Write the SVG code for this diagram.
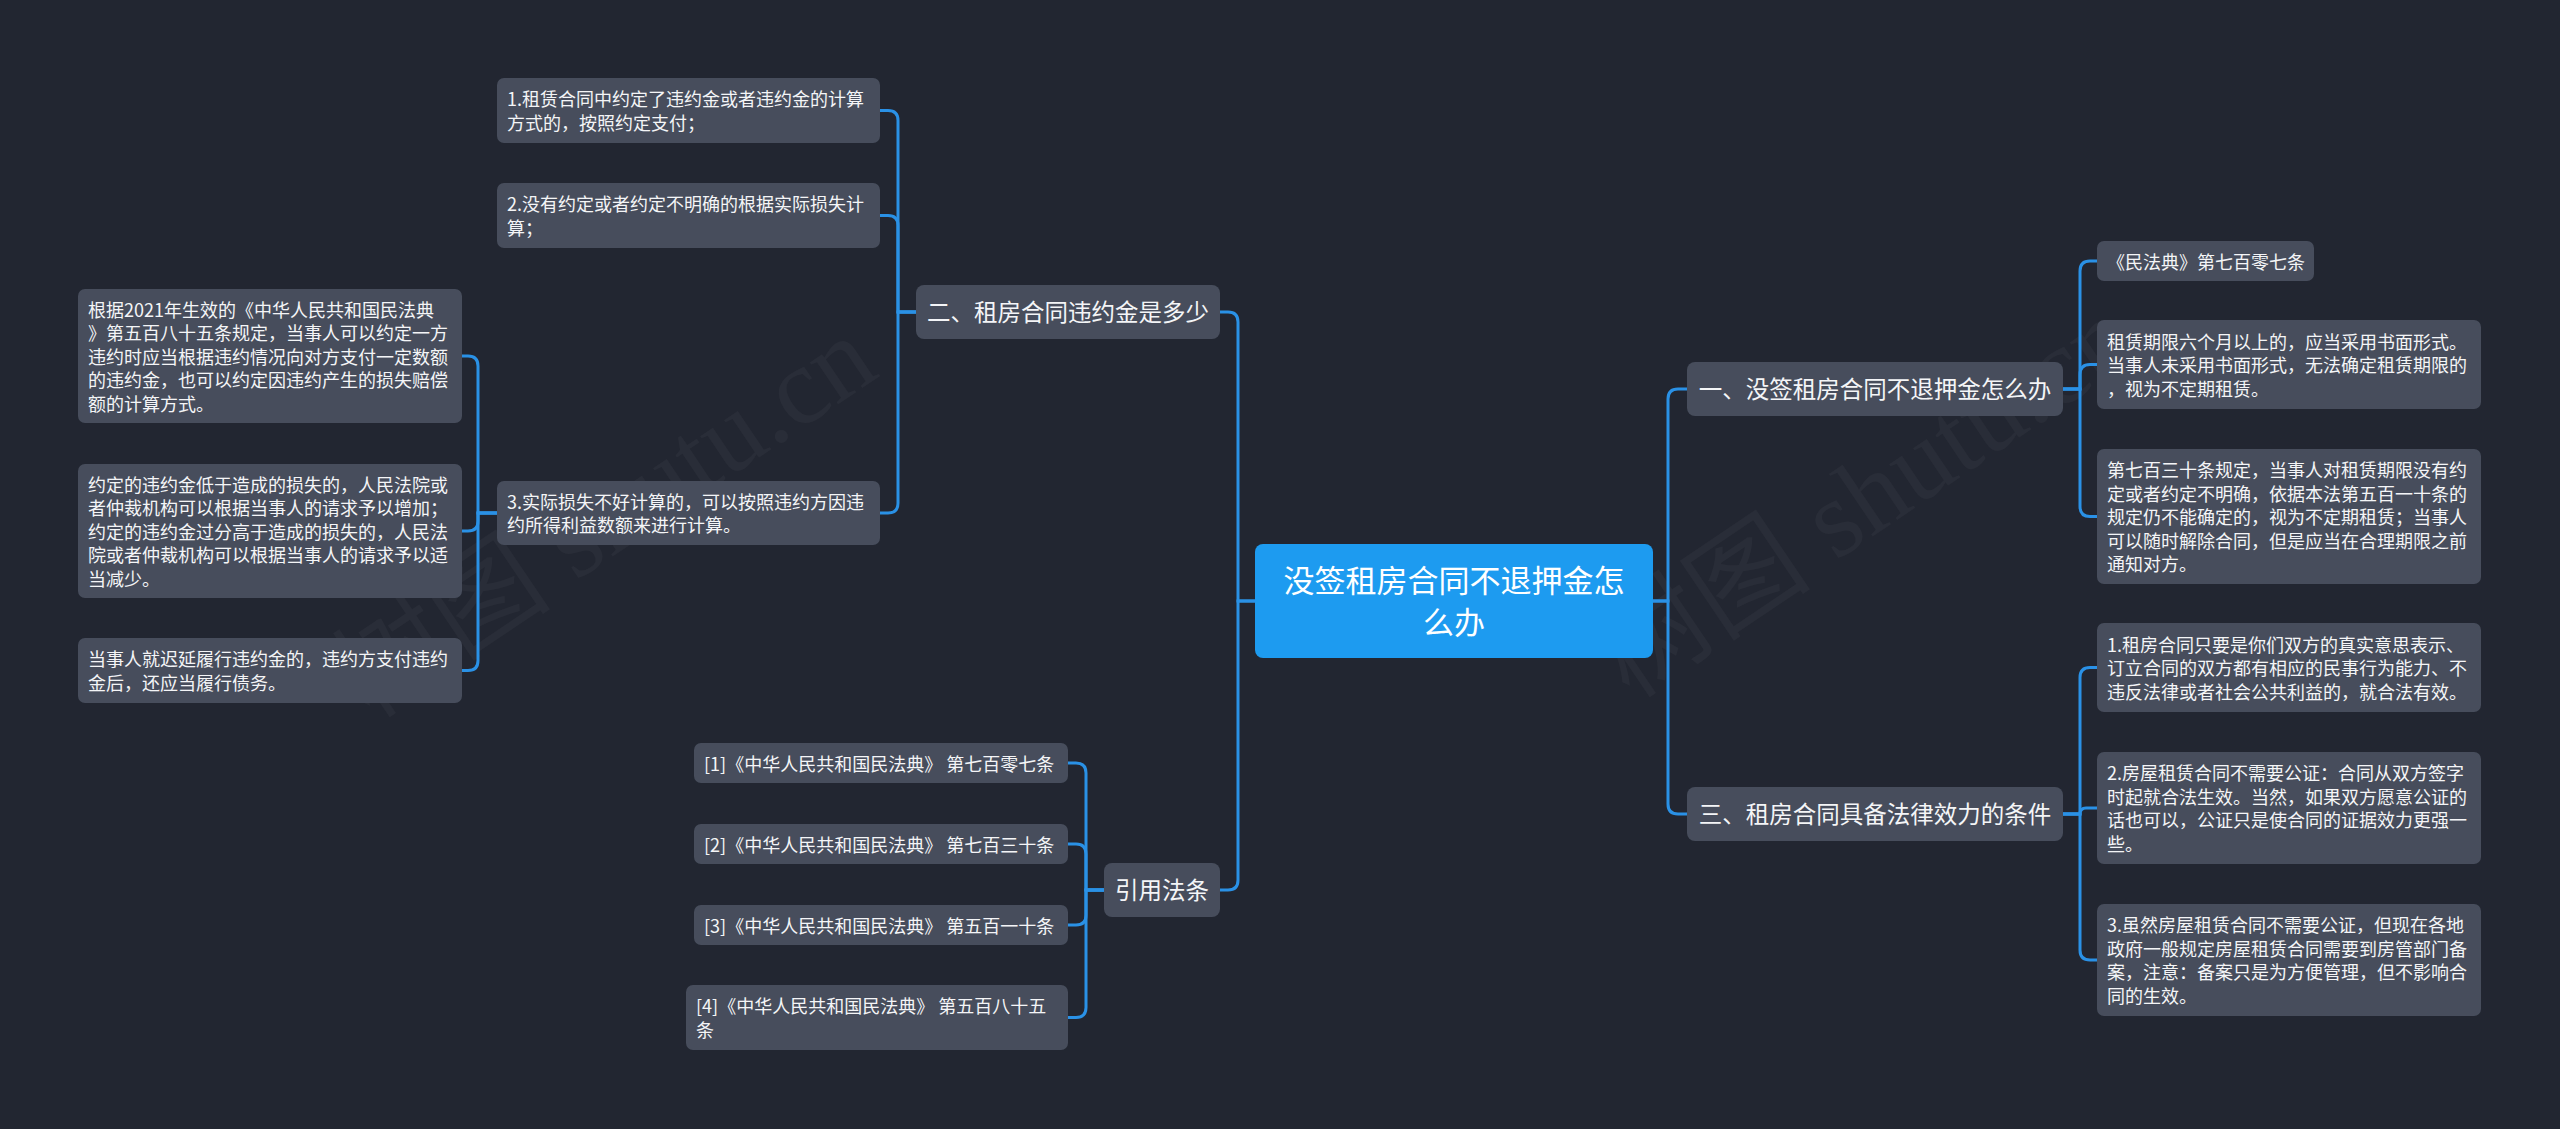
<svg xmlns="http://www.w3.org/2000/svg" width="2560" height="1129" viewBox="0 0 2560 1129">
<style>
.bg{fill:#222631}
.n rect{fill:#474d5c}
.root rect{fill:#1d9bf0}
.t{font-family:"Noto Sans CJK SC","Noto Sans",sans-serif;fill:#f4f5f7;font-size:18px}
.m{font-family:"Noto Sans CJK SC","Noto Sans",sans-serif;fill:#f4f5f7;font-size:23.5px;text-anchor:middle}
.r{font-family:"Noto Sans CJK SC","Noto Sans",sans-serif;fill:#ffffff;font-size:31px;text-anchor:middle}
.c path{fill:none;stroke:#2a91e6;stroke-width:3;stroke-linecap:round}
.wm{font-family:"Liberation Serif","Noto Sans CJK SC",serif;font-size:110px;fill:#ffffff;fill-opacity:0.035}
</style>
<rect class="bg" x="0" y="0" width="2560" height="1129"/>
<g id="watermarks">
<text class="wm" transform="translate(370,720) rotate(-34)">树图 shutu.cn</text>
<text class="wm" transform="translate(1630,700) rotate(-34)">树图 shutu.cn</text>
</g>
<g id="connectors" class="c">
<path d="M1653 601 H1668 V399 Q1668 389 1678 389 H1687"/>
<path d="M1653 601 H1668 V804 Q1668 814 1678 814 H1687"/>
<path d="M1255 601 H1238 V322 Q1238 312 1228 312 H1220"/>
<path d="M1255 601 H1238 V880 Q1238 890 1228 890 H1220"/>
<path d="M2063 389 H2080 V271 Q2080 261 2090 261 H2097"/>
<path d="M2063 389 H2080 V374.5 Q2080 364.5 2090 364.5 H2097"/>
<path d="M2063 389 H2080 V506.5 Q2080 516.5 2090 516.5 H2097"/>
<path d="M2063 814 H2080 V677.5 Q2080 667.5 2090 667.5 H2097"/>
<path d="M2063 814 H2080 V814 Q2080 808 2086 808 H2097"/>
<path d="M2063 814 H2080 V950 Q2080 960 2090 960 H2097"/>
<path d="M916 312 H898 V120.5 Q898 110.5 888 110.5 H880"/>
<path d="M916 312 H898 V225.5 Q898 215.5 888 215.5 H880"/>
<path d="M916 312 H898 V503 Q898 513 888 513 H880"/>
<path d="M497 513 H478 V366 Q478 356 468 356 H462"/>
<path d="M497 513 H478 V521 Q478 531 468 531 H462"/>
<path d="M497 513 H478 V660.5 Q478 670.5 468 670.5 H462"/>
<path d="M1104 890 H1086 V773 Q1086 763 1076 763 H1068"/>
<path d="M1104 890 H1086 V854 Q1086 844 1076 844 H1068"/>
<path d="M1104 890 H1086 V915 Q1086 925 1076 925 H1068"/>
<path d="M1104 890 H1086 V1007.5 Q1086 1017.5 1076 1017.5 H1068"/>
</g>
<g id="root" class="root">
<rect x="1255" y="544" width="398" height="114" rx="8"/>
<text class="r" x="1454" y="592">没签租房合同不退押金怎</text>
<text class="r" x="1454" y="634">么办</text>
</g>
<g id="n1" class="n">
<rect x="1687" y="362" width="376" height="54" rx="8"/>
<text class="m" x="1875" y="397.5">一、没签租房合同不退押金怎么办</text>
</g>
<g id="n3" class="n">
<rect x="1687" y="787" width="376" height="54" rx="8"/>
<text class="m" x="1875" y="822.5">三、租房合同具备法律效力的条件</text>
</g>
<g id="n2" class="n">
<rect x="916" y="285" width="304" height="54" rx="8"/>
<text class="m" x="1068" y="320.5">二、租房合同违约金是多少</text>
</g>
<g id="nref" class="n">
<rect x="1104" y="863" width="116" height="54" rx="8"/>
<text class="m" x="1162" y="898.5">引用法条</text>
</g>
<g id="a1" class="n">
<rect x="2097" y="241" width="217" height="40" rx="7"/>
<text class="t" x="2107" y="268.5">《民法典》第七百零七条</text>
</g>
<g id="a2" class="n">
<rect x="2097" y="320" width="384" height="89" rx="7"/>
<text class="t" x="2107" y="348.5">租赁期限六个月以上的，应当采用书面形式。</text>
<text class="t" x="2107" y="372">当事人未采用书面形式，无法确定租赁期限的</text>
<text class="t" x="2107" y="395.5">，视为不定期租赁。</text>
</g>
<g id="a3" class="n">
<rect x="2097" y="449" width="384" height="135" rx="7"/>
<text class="t" x="2107" y="477">第七百三十条规定，当事人对租赁期限没有约</text>
<text class="t" x="2107" y="500.5">定或者约定不明确，依据本法第五百一十条的</text>
<text class="t" x="2107" y="524">规定仍不能确定的，视为不定期租赁；当事人</text>
<text class="t" x="2107" y="547.5">可以随时解除合同，但是应当在合理期限之前</text>
<text class="t" x="2107" y="571">通知对方。</text>
</g>
<g id="b1" class="n">
<rect x="2097" y="623" width="384" height="89" rx="7"/>
<text class="t" x="2107" y="651.5">1.租房合同只要是你们双方的真实意思表示、</text>
<text class="t" x="2107" y="675">订立合同的双方都有相应的民事行为能力、不</text>
<text class="t" x="2107" y="698.5">违反法律或者社会公共利益的，就合法有效。</text>
</g>
<g id="b2" class="n">
<rect x="2097" y="752" width="384" height="112" rx="7"/>
<text class="t" x="2107" y="780.25">2.房屋租赁合同不需要公证：合同从双方签字</text>
<text class="t" x="2107" y="803.75">时起就合法生效。当然，如果双方愿意公证的</text>
<text class="t" x="2107" y="827.25">话也可以，公证只是使合同的证据效力更强一</text>
<text class="t" x="2107" y="850.75">些。</text>
</g>
<g id="b3" class="n">
<rect x="2097" y="904" width="384" height="112" rx="7"/>
<text class="t" x="2107" y="932.25">3.虽然房屋租赁合同不需要公证，但现在各地</text>
<text class="t" x="2107" y="955.75">政府一般规定房屋租赁合同需要到房管部门备</text>
<text class="t" x="2107" y="979.25">案，注意：备案只是为方便管理，但不影响合</text>
<text class="t" x="2107" y="1002.75">同的生效。</text>
</g>
<g id="c1" class="n">
<rect x="497" y="78" width="383" height="65" rx="7"/>
<text class="t" x="507" y="106.25">1.租赁合同中约定了违约金或者违约金的计算</text>
<text class="t" x="507" y="129.75">方式的，按照约定支付；</text>
</g>
<g id="c2" class="n">
<rect x="497" y="183" width="383" height="65" rx="7"/>
<text class="t" x="507" y="211.25">2.没有约定或者约定不明确的根据实际损失计</text>
<text class="t" x="507" y="234.75">算；</text>
</g>
<g id="c3" class="n">
<rect x="497" y="481" width="383" height="64" rx="7"/>
<text class="t" x="507" y="508.75">3.实际损失不好计算的，可以按照违约方因违</text>
<text class="t" x="507" y="532.25">约所得利益数额来进行计算。</text>
</g>
<g id="d1" class="n">
<rect x="78" y="289" width="384" height="134" rx="7"/>
<text class="t" x="88" y="316.5">根据2021年生效的《中华人民共和国民法典</text>
<text class="t" x="88" y="340">》第五百八十五条规定，当事人可以约定一方</text>
<text class="t" x="88" y="363.5">违约时应当根据违约情况向对方支付一定数额</text>
<text class="t" x="88" y="387">的违约金，也可以约定因违约产生的损失赔偿</text>
<text class="t" x="88" y="410.5">额的计算方式。</text>
</g>
<g id="d2" class="n">
<rect x="78" y="464" width="384" height="134" rx="7"/>
<text class="t" x="88" y="491.5">约定的违约金低于造成的损失的，人民法院或</text>
<text class="t" x="88" y="515">者仲裁机构可以根据当事人的请求予以增加；</text>
<text class="t" x="88" y="538.5">约定的违约金过分高于造成的损失的，人民法</text>
<text class="t" x="88" y="562">院或者仲裁机构可以根据当事人的请求予以适</text>
<text class="t" x="88" y="585.5">当减少。</text>
</g>
<g id="d3" class="n">
<rect x="78" y="638" width="384" height="65" rx="7"/>
<text class="t" x="88" y="666.25">当事人就迟延履行违约金的，违约方支付违约</text>
<text class="t" x="88" y="689.75">金后，还应当履行债务。</text>
</g>
<g id="e1" class="n">
<rect x="694" y="743" width="374" height="40" rx="7"/>
<text class="t" x="704" y="770.5">[1]《中华人民共和国民法典》 第七百零七条</text>
</g>
<g id="e2" class="n">
<rect x="694" y="824" width="374" height="40" rx="7"/>
<text class="t" x="704" y="851.5">[2]《中华人民共和国民法典》 第七百三十条</text>
</g>
<g id="e3" class="n">
<rect x="694" y="905" width="374" height="40" rx="7"/>
<text class="t" x="704" y="932.5">[3]《中华人民共和国民法典》 第五百一十条</text>
</g>
<g id="e4" class="n">
<rect x="686" y="985" width="382" height="65" rx="7"/>
<text class="t" x="696" y="1013.25">[4]《中华人民共和国民法典》 第五百八十五</text>
<text class="t" x="696" y="1036.75">条</text>
</g>
</svg>
